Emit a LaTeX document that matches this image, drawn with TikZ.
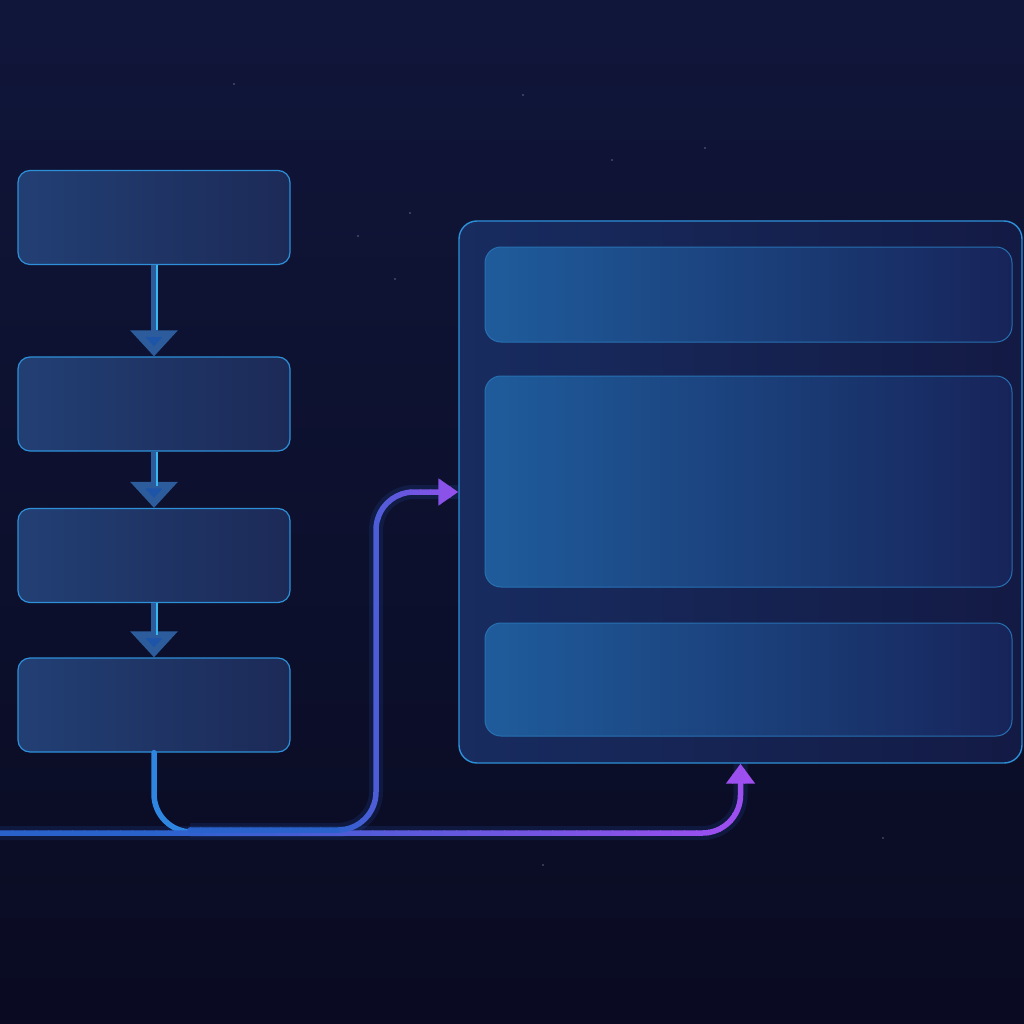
\documentclass[tikz,border=0pt]{standalone}
\usetikzlibrary{arrows.meta,positioning}

\definecolor{bgtop}{HTML}{10163A}
\definecolor{bgbot}{HTML}{0A0B22}
\definecolor{stepleft}{HTML}{223F74}
\definecolor{stepright}{HTML}{1C2A57}
\definecolor{edgeblue}{HTML}{2E90D8}
\definecolor{panelleft}{HTML}{182C60}
\definecolor{panelright}{HTML}{131A44}
\definecolor{slotleft}{HTML}{1F5C9C}
\definecolor{slotright}{HTML}{17245A}
\definecolor{shaftblue}{HTML}{2C5C9C}
\definecolor{headblue}{HTML}{1E55A8}
\definecolor{cyanline}{HTML}{38B8F0}
\definecolor{wireblue}{HTML}{2A62CC}
\definecolor{wirecyan}{HTML}{2F86E0}
\definecolor{wirepurple}{HTML}{A04EF0}

\begin{document}
\begin{tikzpicture}[x=1pt,y=-1pt,
    stepbox/.style={draw=edgeblue, line width=1.2pt, rounded corners=12pt,
        left color=stepleft, right color=stepright,
        minimum width=272pt, minimum height=94pt, inner sep=0pt},
    panelbox/.style={draw=edgeblue, line width=1.4pt, rounded corners=18pt,
        left color=panelleft, right color=panelright, inner sep=0pt},
    slotbox/.style={draw=edgeblue!70!slotright, line width=1pt, rounded corners=16pt,
        left color=slotleft, right color=slotright,
        minimum width=527pt, inner sep=0pt},
    flowarrow/.style={draw=shaftblue, line width=7pt,
        -{Triangle[width=46pt,length=26pt,fill=headblue]}},
    wire/.style={line width=5.5pt, rounded corners=38pt, line cap=round},
    glow/.style={line width=14pt, rounded corners=38pt, opacity=0.15, draw=wireblue}
]
    \useasboundingbox (0,0) rectangle (1024,1024);
    \shade[top color=bgtop, bottom color=bgbot] (0,0) rectangle (1024,1024);

    % faint specks
    \foreach \px/\py in {705/148, 523/95, 410/213, 358/236, 395/279, 883/838, 543/865, 234/84, 612/160}
        \fill[white, opacity=0.35] (\px,\py) circle (0.8pt);

    % left column
    \node[stepbox] (step1) at (154,217.5) {};
    \node[stepbox] (step2) at (154,404) {};
    \node[stepbox] (step3) at (154,555.5) {};
    \node[stepbox] (step4) at (154,705) {};

    % right panel
    \node[panelbox, minimum width=563pt, minimum height=542pt] (panel) at (740.5,492) {};
    \node[slotbox, minimum height=95pt] (slot1) at (748.5,294.5) {};
    \node[slotbox, minimum height=211pt] (slot2) at (748.5,481.5) {};
    \node[slotbox, minimum height=113pt] (slot3) at (748.5,679.5) {};

    % arrows between steps
    \draw[flowarrow] (step1.south) -- (step2.north);
    \draw[flowarrow] (step2.south) -- (step3.north);
    \draw[flowarrow] (step3.south) -- (step4.north);
    \draw[cyanline, line width=1.5pt, shorten >=26pt] ([xshift=3pt]step1.south) -- ([xshift=3pt]step2.north);
    \draw[cyanline, line width=1.5pt, shorten >=22pt] ([xshift=3pt]step2.south) -- ([xshift=3pt]step3.north);
    \draw[cyanline, line width=1.5pt, shorten >=22pt] ([xshift=3pt]step3.south) -- ([xshift=3pt]step4.north);

    % wires
    \coordinate (wirestart) at (0,833);
    \coordinate (wirejoin) at (200,832);
    \coordinate (branch) at (190,830);
    \coordinate (riser) at (376,492);

    \draw[glow] (wirestart) -| (panel.south);
    \draw[glow] (branch) -| (riser) -- (panel.west);
    \draw[wire, draw=wirecyan] (step4.south) |- (wirejoin);

    \foreach \sx in {0,12,...,1020}{
        \pgfmathsetmacro{\mixA}{min(100,max(0,(\sx-150)/6))}
        \begin{scope}
            \clip (\sx,0) rectangle (\sx+13,1024);
            \draw[wire, draw=wirepurple!\mixA!wireblue,
                -{Triangle[width=28pt,length=20pt]}] (wirestart) -| (panel.south);
        \end{scope}
    }
    \foreach \sx in {180,190,...,470}{
        \pgfmathsetmacro{\mixC}{min(100,max(0,(\sx-330)/1.35))}
        \begin{scope}
            \clip (\sx,0) rectangle (\sx+11,1024);
            \draw[wire, draw=wirepurple!\mixC!wireblue,
                -{Triangle[width=26pt,length=20pt]}] (branch) -| (riser) -- (panel.west);
        \end{scope}
    }
\end{tikzpicture}
\end{document}
